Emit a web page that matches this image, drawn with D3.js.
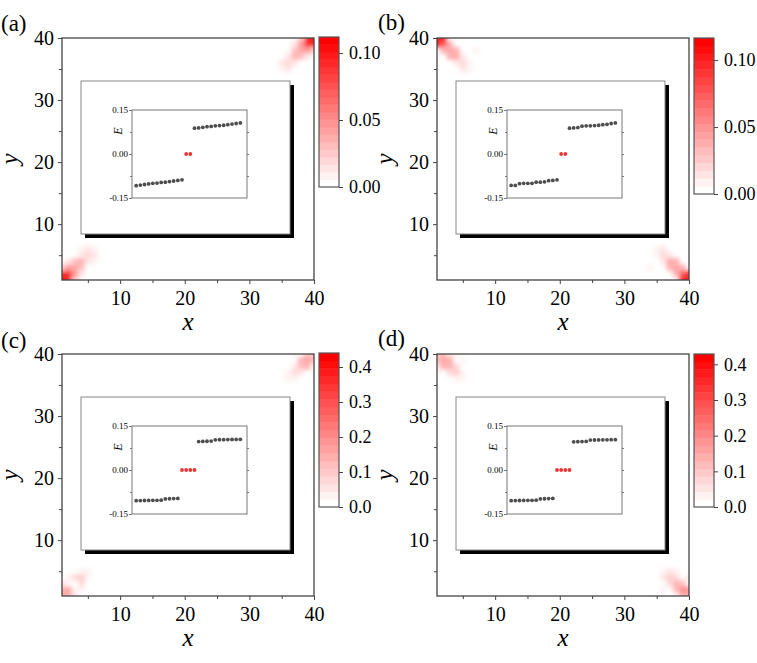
<!DOCTYPE html>
<html lang="en">
<head>
  <meta charset="UTF-8">
  <script type="text/javascript" src="https://cdn.jsdelivr.net/npm/d3@7/dist/d3.min.js"></script>
  <title>Corner states</title>
  <style>
    body { margin: 0; background: #fff; }
    svg text { font-family: "Liberation Serif", "Times New Roman", serif; fill: #000; }
  </style>
</head>
<body>
<div id="chart"></div>

<script>
  // ---- data ----
  var panelLabels = ["(a)", "(b)", "(c)", "(d)"];
  var xTicks = [10, 20, 30, 40];
  var yTicks = [10, 20, 30, 40];
  var minorTicks = [5, 15, 25, 35];
  var insetTicks = [-0.15, 0, 0.15];
  var insetMinor = [-0.075, 0.075];

  var cbarMax = [0.112, 0.1165, 0.44, 0.429];
  var cbarTicksAB = [0, 0.05, 0.10];
  var cbarTicksCD = [0, 0.1, 0.2, 0.3, 0.4];

  // eigen-energies of the 26 states shown in each inset
  var energyA = [-0.108, -0.106, -0.104, -0.102, -0.100, -0.099, -0.097, -0.096, -0.094, -0.092, -0.090, -0.088,
                 0, 0,
                 0.088, 0.089, 0.091, 0.093, 0.094, 0.096, 0.097, 0.098, 0.100, 0.102, 0.104, 0.106];
  var energyB = [-0.107, -0.107, -0.101, -0.100, -0.100, -0.100, -0.096, -0.096, -0.095, -0.091, -0.090, -0.088,
                 0, 0,
                 0.088, 0.089, 0.090, 0.095, 0.096, 0.096, 0.097, 0.098, 0.100, 0.101, 0.104, 0.106];
  var energyC = [-0.1045, -0.1043, -0.104, -0.1038, -0.1035, -0.1033, -0.103, -0.0985, -0.098, -0.0975, -0.097,
                 0, 0, 0, 0,
                 0.097, 0.0975, 0.098, 0.0985, 0.103, 0.1033, 0.1035, 0.1038, 0.104, 0.1043, 0.1045];
  var energyD = [-0.1045, -0.1043, -0.104, -0.1038, -0.1035, -0.1033, -0.103, -0.0985, -0.098, -0.0975, -0.097,
                 0, 0, 0, 0,
                 0.096, 0.0965, 0.097, 0.0975, 0.102, 0.1023, 0.1025, 0.1028, 0.103, 0.1033, 0.1035];

  // local density of the zero modes: [x, y, value], zero elsewhere
  var heatA = [[1,1,0.112],[2,1,0.1],[1,2,0.1],[2,2,0.095],[3,1,0.025],[1,3,0.025],[3,2,0.045],[2,3,0.045],[3,3,0.04],
               [4,3,0.032],[3,4,0.032],[4,4,0.038],[4,2,0.012],[2,4,0.012],[5,4,0.016],[4,5,0.016],[5,5,0.022],
               [6,5,0.012],[5,6,0.012],[6,6,0.008],[6,4,0.006],[4,6,0.006],
               [40,40,0.112],[39,40,0.1],[40,39,0.1],[39,39,0.095],[38,40,0.025],[40,38,0.025],[38,39,0.045],[39,38,0.045],
               [38,38,0.04],[37,38,0.032],[38,37,0.032],[37,37,0.038],[37,39,0.012],[39,37,0.012],[36,37,0.016],
               [37,36,0.016],[36,36,0.022],[35,36,0.012],[36,35,0.012],[35,35,0.008]];
  var heatB = [[1,40,0.116],[2,40,0.1],[1,39,0.1],[2,39,0.08],[3,39,0.035],[2,38,0.035],[3,38,0.045],[4,38,0.04],
               [3,37,0.04],[4,37,0.045],[5,37,0.016],[4,36,0.016],[5,36,0.022],[6,35,0.01],[5,35,0.012],[6,36,0.008],
               [7,38,0.006],[8,37,0.005],[3,35,0.005],[1,37,0.006],
               [40,1,0.116],[39,1,0.1],[40,2,0.1],[39,2,0.08],[38,2,0.035],[39,3,0.035],[38,3,0.045],[37,3,0.04],
               [38,4,0.04],[37,4,0.045],[36,4,0.016],[37,5,0.016],[36,5,0.022],[35,6,0.01],[36,6,0.012],[35,5,0.008],
               [34,3,0.006],[35,2,0.005],[38,7,0.005]];
  var heatC = [[1,1,0.17],[2,1,0.15],[1,2,0.15],[2,2,0.16],[3,1,0.06],[1,3,0.06],[3,2,0.03],[2,3,0.03],[4,3,0.08],
               [3,4,0.08],[4,4,0.09],[3,3,0.02],[5,4,0.04],[4,5,0.04],[5,5,0.03],[4,2,0.03],[2,4,0.03],[1,4,0.02],
               [4,1,0.02],[1,5,0.02],[5,1,0.015],
               [40,40,0.09],[39,40,0.12],[40,39,0.12],[39,39,0.17],[38,39,0.15],[39,38,0.15],[38,38,0.12],[37,38,0.06],
               [38,37,0.06],[37,37,0.08],[36,37,0.04],[37,36,0.04],[36,36,0.03],[40,37,0.03],[37,40,0.03],
               [36,38,0.02],[38,36,0.02]];
  var heatD = [[1,40,0.1],[2,40,0.11],[1,39,0.11],[2,39,0.16],[3,39,0.13],[2,38,0.13],[3,38,0.14],[4,38,0.08],
               [3,37,0.08],[4,37,0.09],[1,38,0.05],[3,40,0.05],[5,37,0.04],[4,36,0.04],[5,36,0.03],[1,37,0.03],
               [4,40,0.03],[5,39,0.03],[2,36,0.02],
               [40,1,0.15],[39,1,0.14],[40,2,0.18],[39,2,0.2],[38,2,0.12],[39,3,0.12],[38,3,0.14],[37,3,0.08],
               [38,4,0.08],[37,4,0.1],[36,4,0.05],[37,5,0.05],[36,5,0.04],[40,4,0.05],[36,2,0.03],[38,5,0.03],
               [35,4,0.02]];

  // ---- layout ----
  var W = 757, H = 663;
  var plotW = 252, plotH = 242;
  var nLevels = 20;
  var serif = '"Liberation Serif", "Times New Roman", serif';

  var panels = [
    {ox: 62,  oy: 38,  cbx: 319, cbTop: 37,  cbBot: 187, lx: 1,   ly: 31,  E: energyA, heat: heatA, max: cbarMax[0], ticks: cbarTicksAB, fmt: ".2f"},
    {ox: 437, oy: 38,  cbx: 694, cbTop: 38,  cbBot: 194, lx: 378, ly: 30,  E: energyB, heat: heatB, max: cbarMax[1], ticks: cbarTicksAB, fmt: ".2f"},
    {ox: 62,  oy: 354, cbx: 319, cbTop: 353, cbBot: 507, lx: 1,   ly: 348, E: energyC, heat: heatC, max: cbarMax[2], ticks: cbarTicksCD, fmt: ".1f"},
    {ox: 437, oy: 354, cbx: 694, cbTop: 354, cbBot: 507, lx: 378, ly: 346, E: energyD, heat: heatD, max: cbarMax[3], ticks: cbarTicksCD, fmt: ".1f"}
  ];

  var svg = d3.select("#chart")
    .append("svg")
    .attr("width", W)
    .attr("height", H);

  var defs = svg.append("defs");
  defs.append("filter")
    .attr("id", "soft")
    .attr("x", "-50%").attr("y", "-50%").attr("width", "200%").attr("height", "200%")
    .append("feGaussianBlur")
    .attr("stdDeviation", 2);

  panels.forEach(function(p, i) { drawPanel(p, i); });

  // axis groups carry font-family="sans-serif"; force the serif face on every text
  svg.selectAll("text").style("font-family", serif);

  function drawPanel(p, i) {
    var x = d3.scaleLinear().domain([1, 40]).range([0, plotW]);
    var y = d3.scaleLinear().domain([1, 40]).range([plotH, 0]);

    var levels = d3.range(nLevels).map(function(k) { return d3.interpolateRgb("#ffffff", "#ff0000")(k / (nLevels - 1)); });
    var color = d3.scaleQuantize().domain([0, p.max]).range(levels);

    var g = svg.append("g")
      .attr("transform", "translate(" + p.ox + "," + p.oy + ")");

    // heat map, clipped to the plot box
    defs.append("clipPath").attr("id", "clip" + i)
      .append("rect").attr("width", plotW).attr("height", plotH);

    var cw = x(1.5) - x(0.5), ch = y(0.5) - y(1.5);
    g.append("g")
      .attr("clip-path", "url(#clip" + i + ")")
      .append("g")
      .attr("filter", "url(#soft)")
      .selectAll("rect")
      .data(p.heat)
      .enter()
      .append("rect")
      .attr("x", function(d) { return x(d[0] - 0.5); })
      .attr("y", function(d) { return y(d[1] + 0.5); })
      .attr("width", cw)
      .attr("height", ch)
      .attr("fill", function(d) { return color(d[2]); });

    // frame
    g.append("rect")
      .attr("width", plotW).attr("height", plotH)
      .attr("fill", "none").attr("stroke", "#444").attr("stroke-width", 1.3);

    // axes
    var xa = g.append("g").attr("transform", "translate(0," + plotH + ")")
      .call(d3.axisBottom(x).tickValues(xTicks).tickSize(4).tickPadding(7));
    g.append("g").attr("transform", "translate(0," + plotH + ")")
      .call(d3.axisBottom(x).tickValues(minorTicks).tickSize(3).tickFormat(""));
    var ya = g.append("g")
      .call(d3.axisLeft(y).tickValues(yTicks).tickSize(4).tickPadding(4));
    g.append("g")
      .call(d3.axisLeft(y).tickValues(minorTicks).tickSize(3).tickFormat(""));

    g.selectAll(".domain").remove();
    g.selectAll(".tick line").attr("stroke", "#444");
    xa.selectAll("text").style("font-size", "20px");
    ya.selectAll("text").style("font-size", "20px");

    // axis titles
    g.append("text")
      .attr("x", plotW / 2)
      .attr("y", plotH + 50)
      .attr("text-anchor", "middle")
      .style("font-size", "25px")
      .style("font-style", "italic")
      .text("x");
    g.append("text")
      .attr("transform", "translate(-44," + (plotH / 2) + ") rotate(-90)")
      .attr("text-anchor", "middle")
      .style("font-size", "25px")
      .style("font-style", "italic")
      .text("y");

    // panel label
    svg.append("text")
      .attr("x", p.lx).attr("y", p.ly)
      .style("font-size", "23px")
      .text(panelLabels[i]);

    // inset: shadowed box with E spectrum
    var bx = 19, by = 43, bw = 209, bh = 153;
    g.append("rect")
      .attr("x", bx + 4).attr("y", by + 4)
      .attr("width", bw).attr("height", bh)
      .attr("fill", "#000");
    g.append("rect")
      .attr("x", bx).attr("y", by)
      .attr("width", bw).attr("height", bh)
      .attr("fill", "#fff").attr("stroke", "#888").attr("stroke-width", 1);

    var iw = 115, ih = 88;
    var ig = g.append("g").attr("transform", "translate(70,72)");
    var xi = d3.scaleLinear().domain([0, 27.6]).range([0, iw]);
    var yi = d3.scaleLinear().domain([-0.15, 0.15]).range([ih, 0]);

    ig.append("rect")
      .attr("width", iw).attr("height", ih)
      .attr("fill", "none").attr("stroke", "#777").attr("stroke-width", 1);

    var la = ig.append("g")
      .call(d3.axisLeft(yi).tickValues(insetTicks).tickSize(3).tickPadding(1)
        .tickFormat(function(d) { return d.toFixed(2); }));
    ig.append("g")
      .call(d3.axisLeft(yi).tickValues(insetMinor).tickSize(2).tickFormat(""));
    ig.append("g").attr("transform", "translate(" + iw + ",0)")
      .call(d3.axisRight(yi).tickValues([-0.075, 0, 0.075]).tickSize(2).tickFormat(""));
    ig.selectAll(".domain").remove();
    ig.selectAll(".tick line").attr("stroke", "#777");
    la.selectAll("text").style("font-size", "9px");

    ig.append("text")
      .attr("transform", "translate(-10,21) rotate(-90)")
      .attr("text-anchor", "middle")
      .style("font-size", "12px")
      .style("font-style", "italic")
      .text("E");

    ig.selectAll(".dot")
      .data(p.E)
      .enter()
      .append("circle")
      .attr("class", "dot")
      .attr("r", 1.9)
      .attr("cx", function(d, k) { return xi(k + 1); })
      .attr("cy", function(d) { return yi(d); })
      .attr("fill", function(d) { return Math.abs(d) < 0.02 ? "#ee3535" : "#4d4d4d"; });

    // colour bar
    var cbW = 20;
    var cb = d3.scaleLinear().domain([0, p.max]).range([p.cbBot, p.cbTop]);
    var step = p.max / nLevels;
    svg.append("g")
      .selectAll("rect")
      .data(levels)
      .enter()
      .append("rect")
      .attr("x", p.cbx)
      .attr("y", function(d, k) { return cb((k + 1) * step); })
      .attr("width", cbW)
      .attr("height", function(d, k) { return cb(k * step) - cb((k + 1) * step) + 0.4; })
      .attr("fill", function(d) { return d; });
    svg.append("rect")
      .attr("x", p.cbx).attr("y", p.cbTop)
      .attr("width", cbW).attr("height", p.cbBot - p.cbTop)
      .attr("fill", "none").attr("stroke", "#555").attr("stroke-width", 1.2);
    var ca = svg.append("g")
      .attr("transform", "translate(" + (p.cbx + cbW) + ",0)")
      .call(d3.axisRight(cb).tickValues(p.ticks).tickSize(4).tickPadding(6).tickFormat(d3.format(p.fmt)));
    ca.select(".domain").remove();
    ca.selectAll(".tick line").attr("stroke", "#444");
    ca.selectAll("text").style("font-size", "18px");
  }
</script>

</body>
</html>
